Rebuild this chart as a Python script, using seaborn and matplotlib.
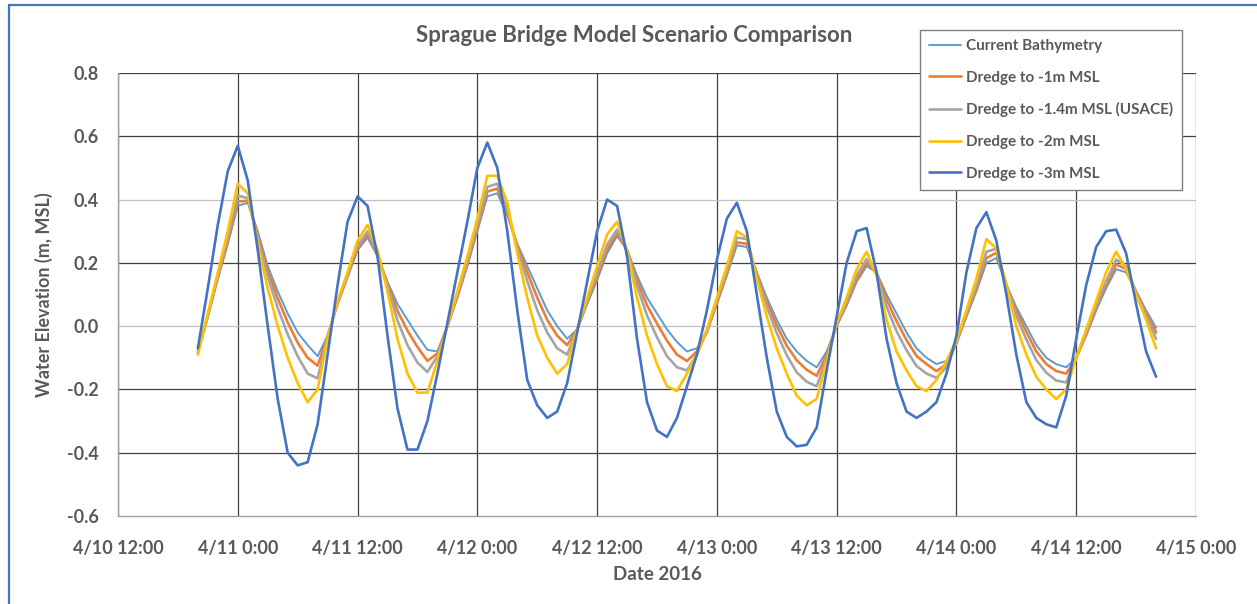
import matplotlib
matplotlib.use('Agg')
import pandas as pd
import seaborn as sns
import matplotlib.pyplot as plt
import matplotlib.dates as mdates
from matplotlib.ticker import MultipleLocator, FormatStrFormatter, FuncFormatter
from matplotlib.lines import Line2D

sns.set_style('white')
plt.rcParams['font.family'] = ['Lato', 'DejaVu Sans']
plt.rcParams['axes.unicode_minus'] = False

# hourly values, 4/10 20:00 -> 4/14 20:00
start = '2016-04-10 20:00'

current = [-0.08, 0.03, 0.15, 0.26, 0.38, 0.39, 0.30, 0.19, 0.11, 0.04,
           -0.02, -0.06, -0.095, -0.03, 0.07, 0.155, 0.24, 0.28, 0.22, 0.14,
           0.07, 0.02, -0.03, -0.075, -0.08, 0.0, 0.09, 0.19, 0.30, 0.41,
           0.42, 0.35, 0.26, 0.19, 0.12, 0.05, 0.0, -0.04, -0.01, 0.07,
           0.145, 0.23, 0.285, 0.24, 0.16, 0.09, 0.04, -0.01, -0.05, -0.08,
           -0.07, -0.02, 0.07, 0.16, 0.255, 0.25, 0.17, 0.09, 0.02, -0.04,
           -0.08, -0.11, -0.13, -0.08, 0.0, 0.065, 0.14, 0.19, 0.17, 0.10,
           0.04, -0.02, -0.07, -0.10, -0.12, -0.11, -0.055, 0.03, 0.11, 0.20,
           0.215, 0.13, 0.06, 0.0, -0.06, -0.10, -0.12, -0.13, -0.10, -0.03,
           0.05, 0.12, 0.18, 0.17, 0.11, 0.05, -0.005]

dredge_1m = [-0.082, 0.032, 0.154, 0.268, 0.394, 0.396, 0.292, 0.176, 0.088, 0.012,
             -0.052, -0.10, -0.125, -0.032, 0.072, 0.158, 0.246, 0.29, 0.224, 0.134,
             0.048, -0.014, -0.066, -0.11, -0.086, 0.0, 0.094, 0.196, 0.308, 0.425,
             0.435, 0.358, 0.254, 0.17, 0.09, 0.02, -0.03, -0.06, -0.01, 0.074,
             0.154, 0.242, 0.295, 0.24, 0.146, 0.066, 0.008, -0.046, -0.09, -0.11,
             -0.08, -0.018, 0.074, 0.166, 0.265, 0.26, 0.166, 0.078, 0.002, -0.062,
             -0.108, -0.138, -0.157, -0.09, 0.002, 0.07, 0.148, 0.20, 0.168, 0.084,
             0.016, -0.044, -0.094, -0.12, -0.142, -0.12, -0.053, 0.034, 0.118, 0.215,
             0.232, 0.13, 0.048, -0.018, -0.08, -0.12, -0.142, -0.15, -0.10, -0.026,
             0.056, 0.13, 0.195, 0.18, 0.108, 0.044, -0.02]

dredge_14m = [-0.085, 0.035, 0.16, 0.28, 0.413, 0.404, 0.281, 0.157, 0.058, -0.026,
              -0.095, -0.15, -0.165, -0.035, 0.075, 0.162, 0.254, 0.30, 0.23, 0.126,
              0.018, -0.06, -0.115, -0.145, -0.095, 0.0, 0.10, 0.204, 0.319, 0.44,
              0.45, 0.369, 0.246, 0.143, 0.05, -0.02, -0.07, -0.09, -0.01, 0.079,
              0.166, 0.258, 0.305, 0.24, 0.127, 0.034, -0.035, -0.095, -0.13, -0.14,
              -0.09, -0.015, 0.08, 0.174, 0.28, 0.275, 0.16, 0.062, -0.022, -0.092,
              -0.146, -0.176, -0.19, -0.10, 0.005, 0.077, 0.16, 0.212, 0.165, 0.062,
              -0.016, -0.076, -0.126, -0.15, -0.163, -0.13, -0.05, 0.04, 0.13, 0.235,
              0.245, 0.13, 0.032, -0.042, -0.107, -0.147, -0.172, -0.178, -0.10, -0.02,
              0.064, 0.143, 0.21, 0.19, 0.105, 0.036, -0.04]

dredge_2m = [-0.09, 0.04, 0.17, 0.30, 0.45, 0.42, 0.26, 0.12, 0.0, -0.10,
             -0.18, -0.24, -0.20, -0.04, 0.08, 0.17, 0.27, 0.32, 0.24, 0.11,
             -0.04, -0.15, -0.21, -0.21, -0.11, 0.0, 0.11, 0.22, 0.34, 0.475,
             0.475, 0.39, 0.23, 0.09, -0.03, -0.10, -0.15, -0.12, -0.01, 0.09,
             0.19, 0.29, 0.33, 0.24, 0.09, -0.03, -0.12, -0.19, -0.205, -0.15,
             -0.09, -0.01, 0.09, 0.19, 0.30, 0.28, 0.15, 0.03, -0.07, -0.15,
             -0.22, -0.25, -0.23, -0.11, 0.01, 0.09, 0.18, 0.235, 0.16, 0.02,
             -0.08, -0.14, -0.19, -0.205, -0.17, -0.11, -0.045, 0.05, 0.15, 0.275,
             0.245, 0.13, 0.0, -0.09, -0.16, -0.20, -0.23, -0.20, -0.10, -0.01,
             0.08, 0.17, 0.235, 0.18, 0.10, 0.02, -0.07]

dredge_3m = [-0.07, 0.12, 0.32, 0.49, 0.57, 0.46, 0.24, 0.0, -0.23, -0.40,
             -0.44, -0.43, -0.31, -0.09, 0.13, 0.33, 0.41, 0.38, 0.22, -0.03,
             -0.26, -0.39, -0.39, -0.30, -0.15, 0.01, 0.17, 0.33, 0.50, 0.58,
             0.50, 0.30, 0.05, -0.17, -0.25, -0.29, -0.27, -0.18, -0.02, 0.14,
             0.30, 0.40, 0.38, 0.22, -0.04, -0.24, -0.33, -0.35, -0.29, -0.19,
             -0.09, 0.05, 0.21, 0.34, 0.39, 0.30, 0.10, -0.10, -0.27, -0.35,
             -0.38, -0.375, -0.32, -0.14, 0.03, 0.20, 0.30, 0.31, 0.17, -0.04,
             -0.18, -0.27, -0.29, -0.27, -0.24, -0.15, -0.03, 0.17, 0.31, 0.36,
             0.27, 0.10, -0.09, -0.24, -0.29, -0.31, -0.32, -0.22, -0.04, 0.13,
             0.25, 0.30, 0.305, 0.23, 0.07, -0.08, -0.16]

labels = ['Current Bathymetry', 'Dredge to -1m MSL', 'Dredge to -1.4m MSL (USACE)',
          'Dredge to -2m MSL', 'Dredge to -3m MSL']
colors = ['#5B9BD5', '#ED7D31', '#A5A5A5', '#FFC000', '#4472C4']
widths = [1.4, 1.9, 1.9, 1.9, 1.9]

times = pd.date_range(start, periods=len(current), freq='h')
series = [current, dredge_1m, dredge_14m, dredge_2m, dredge_3m]

fig = plt.figure(figsize=(12.57, 6.04), dpi=100)
ax = fig.add_axes([118 / 1257, 1 - 516 / 604, (1196 - 118) / 1257, (516 - 73) / 604])

for vals, lab, col, lw in zip(series, labels, colors, widths):
    sns.lineplot(x=times, y=vals, ax=ax, color=col, lw=lw, label=lab)

txt = '#595959'
ax.set_xlim(pd.Timestamp('2016-04-10 12:00'), pd.Timestamp('2016-04-15 00:00'))
ax.set_ylim(-0.6, 0.8)
ax.xaxis.set_major_locator(mdates.HourLocator(byhour=[0, 12]))
ax.xaxis.set_minor_locator(mdates.HourLocator())
ax.xaxis.set_major_formatter(FuncFormatter(
    lambda v, p: (lambda d: f'{d.month}/{d.day} {d.hour}:{d.minute:02d}')(mdates.num2date(v))))
ax.yaxis.set_major_locator(MultipleLocator(0.2))
ax.yaxis.set_minor_locator(MultipleLocator(0.1))
ax.yaxis.set_major_formatter(FormatStrFormatter('%.1f'))

ax.tick_params(axis='both', which='major', length=0, labelsize=13, labelcolor=txt)
ax.tick_params(axis='x', which='major', pad=17)
ax.tick_params(axis='y', which='major', pad=14)
ax.tick_params(axis='x', which='minor', direction='in', length=4, width=0.8, color='#808080')
ax.tick_params(axis='y', which='minor', direction='in', length=5, width=0.8, color='#808080')
for t in ax.get_xticklabels() + ax.get_yticklabels():
    t.set_fontweight('bold')

ax.grid(True, which='major', color='#404040', lw=0.9)
for tick in ax.yaxis.get_major_ticks():
    if abs(tick.get_loc() - 0.4) < 1e-6 or abs(tick.get_loc()) < 1e-6:
        tick.gridline.set_color('#c0c0c0')
    if abs(tick.get_loc() + 0.6) < 1e-6:
        tick.gridline.set_visible(False)
ax.set_axisbelow(True)
for side in ['top', 'right']:
    ax.spines[side].set_visible(False)
for side in ['left', 'bottom']:
    ax.spines[side].set_color('#a0a0a0')
    ax.spines[side].set_linewidth(1.0)

ax.set_xlabel('Date 2016', fontsize=13.5, color=txt, fontweight='bold', labelpad=7)
ax.set_ylabel('Water Elevation (m, MSL)', fontsize=13, color=txt, fontweight='bold', labelpad=10)
fig.text(634 / 1257, 1 - 36 / 604, 'Sprague Bridge Model Scenario Comparison',
         ha='center', va='center', fontsize=16, color=txt, fontweight='bold')

leg = ax.legend(loc='upper left', bbox_to_anchor=(920 / 1257, 1 - 30 / 604),
                bbox_transform=fig.transFigure, borderaxespad=0, fontsize=11,
                frameon=True, fancybox=False, edgecolor='#808080', framealpha=1,
                handlelength=2.1, handletextpad=0.3, labelspacing=1.15,
                borderpad=0.6)
leg.get_frame().set_linewidth(1.0)
for t in leg.get_texts():
    t.set_color(txt)
    t.set_fontweight('bold')

# outer frame of the pasted chart
fig.add_artist(Line2D([8.5 / 1257, 8.5 / 1257], [0, 1 - 4.5 / 604], transform=fig.transFigure,
                      color='#4472C4', lw=1.6))
fig.add_artist(Line2D([8.5 / 1257, 1], [1 - 4.5 / 604, 1 - 4.5 / 604], transform=fig.transFigure,
                      color='#4472C4', lw=1.6))

fig.savefig('out.png', dpi=100)
